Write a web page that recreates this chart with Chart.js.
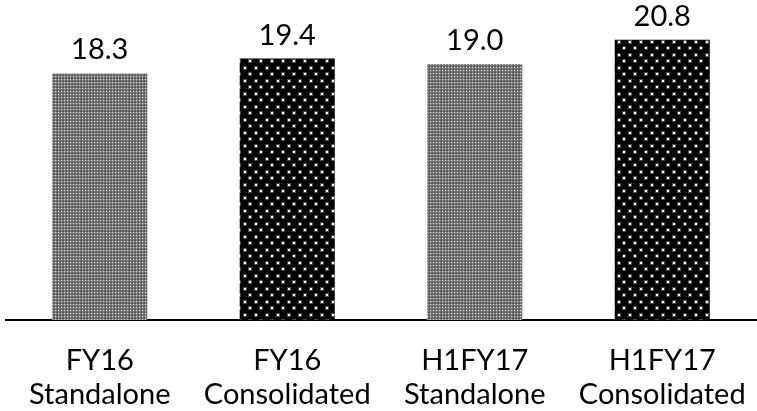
<!DOCTYPE html>
<html>
<head>
<meta charset="utf-8">
<script src="https://cdn.jsdelivr.net/npm/chart.js@4"></script>
<style>
    body { margin: 0; background: #fff; }
    #wrap { width: 757px; height: 411px; position: relative; }
</style>
</head>
<body>
<div id="wrap"><canvas id="barChart"></canvas></div>
<script>
const periods = ['FY16', 'FY16', 'H1FY17', 'H1FY17'];
const entities = ['Standalone', 'Consolidated', 'Standalone', 'Consolidated'];
const values = [18.3, 19.4, 19.0, 20.8];
const yMax = 23;

// 회색 체크 무늬
function checkerPattern() {
    const c = document.createElement('canvas');
    c.width = 3; c.height = 3;
    const g = c.getContext('2d');
    g.fillStyle = '#7c7c7c';
    g.fillRect(0, 0, 3, 3);
    g.fillStyle = '#5a5a5a';
    g.fillRect(0, 0, 1, 1);
    g.fillRect(2, 0, 1, 1);
    g.fillRect(0, 2, 1, 1);
    g.fillStyle = '#d8d8d8';
    g.fillRect(1, 1, 1, 1);
    return g.createPattern(c, 'repeat');
}

// 검정 바탕 흰 점
function dotPattern() {
    const c = document.createElement('canvas');
    c.width = 11; c.height = 13;
    const g = c.getContext('2d');
    g.fillStyle = '#000';
    g.fillRect(0, 0, 11, 13);
    [[2, 2], [7, 8]].forEach(function (p) {
        g.fillStyle = '#4a4a4a';
        g.fillRect(p[0] - 1, p[1] - 1, 4, 4);
        g.fillStyle = '#fff';
        g.fillRect(p[0], p[1], 2, 2);
    });
    return g.createPattern(c, 'repeat');
}

const gray = checkerPattern();
const dark = dotPattern();

const valueLabels = {
    id: 'valueLabels',
    afterDatasetsDraw(chart) {
        const ctx = chart.ctx;
        ctx.save();
        ctx.font = '29px Lato';
        ctx.fillStyle = '#000';
        ctx.textAlign = 'center';
        ctx.textBaseline = 'alphabetic';
        chart.getDatasetMeta(0).data.forEach(function (bar, i) {
            ctx.fillText(values[i].toFixed(1), bar.x, bar.y - 14);
        });
        ctx.restore();
    }
};

new Chart(document.getElementById('barChart').getContext('2d'), {
    type: 'bar',
    data: {
        labels: periods.map(function (p, i) { return [p, entities[i]]; }),
        datasets: [{
            data: values,
            backgroundColor: [gray, dark, gray, dark],
            borderWidth: 0,
            categoryPercentage: 1,
            barPercentage: 0.507
        }]
    },
    options: {
        responsive: true,
        maintainAspectRatio: false,
        animation: false,
        layout: { padding: { top: 10, left: 6, right: 1, bottom: -25 } },
        plugins: {
            legend: { display: false },
            tooltip: { enabled: false }
        },
        scales: {
            x: {
                grid: { display: false, drawTicks: false },
                border: { display: true, color: '#000', width: 2 },
                afterFit: function (scale) {
                    scale.paddingLeft = 0;
                    scale.paddingRight = 0;
                },
                ticks: {
                    color: '#000',
                    padding: 24,
                    maxRotation: 0,
                    autoSkip: false,
                    font: { family: 'Lato', size: 29, lineHeight: 1.17 }
                }
            },
            y: {
                display: false,
                min: 0,
                max: yMax
            }
        }
    },
    plugins: [valueLabels]
});
</script>
</body>
</html>
